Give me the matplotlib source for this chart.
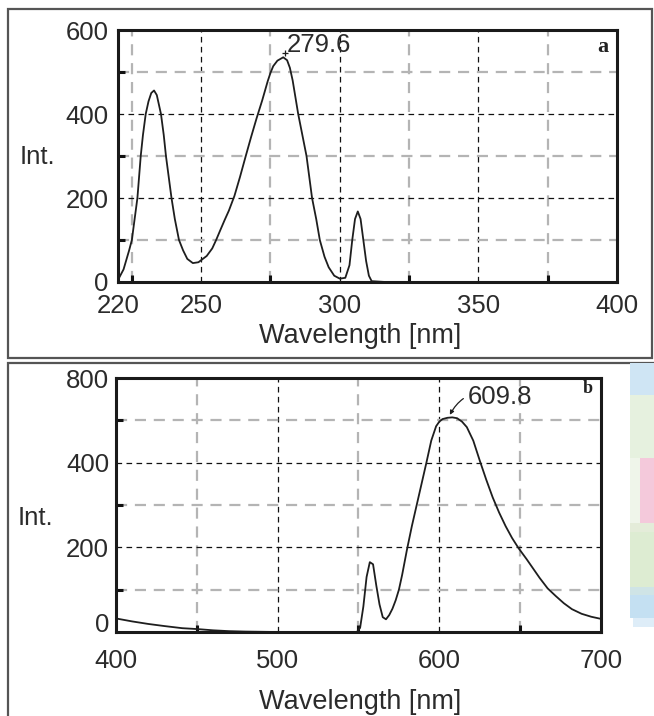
import matplotlib
matplotlib.use("Agg")  # no display in the sandbox
import matplotlib.pyplot as plt
from matplotlib.patches import Rectangle
from matplotlib.ticker import FixedLocator
from matplotlib.transforms import ScaledTranslation

# ---- Data -------------------------------------------------------------

# (a) excitation spectrum
wl_a = [220, 222, 224, 225, 226, 227, 228.2, 229, 230, 231, 232, 233, 234,
        235, 235.5, 236.5, 237.3, 238.3, 239.3, 240.5, 242, 243.5, 245, 247,
        249, 250, 252, 254, 255.4, 257, 258.5, 260, 262, 264, 266, 268, 270,
        272, 274, 275, 276, 277.5, 279.6, 281, 282, 283, 285, 286.5, 288,
        289, 290, 291.5, 292.8, 294.5, 296, 298, 300, 302, 303.5, 304.5,
        305.5, 306.5, 307.5, 308.5, 309.5, 310.5, 311.5, 316.5]
int_a = [5, 30, 75, 100, 150, 200, 300, 350, 400, 430, 450, 456, 445,
         415, 400, 350, 300, 250, 200, 150, 100, 75, 55, 45,
         47, 52, 62, 80, 100, 125, 148, 170, 205, 250, 298, 345, 390,
         432, 478, 498, 514, 527, 535, 528, 510, 480, 400, 350, 300,
         250, 200, 150, 100, 60, 35, 15, 8, 10, 40, 100,
         150, 168, 150, 100, 50, 15, 2, 0]
peak_a = (279.6, 535)

# (b) emission spectrum
wl_b = [400, 410, 420, 430, 441, 450, 460, 470, 480, 500, 549, 551, 553, 555,
        557, 559, 561, 563, 565, 567, 569, 571, 573, 575, 577, 580, 583, 586,
        589, 592, 595, 598, 600, 602, 605, 608, 611, 614, 617, 621, 625, 629,
        633, 637, 641, 645, 649, 654, 658, 662, 667, 672, 677, 682, 688, 694, 700]
int_b = [32, 25, 19, 14, 9, 7, 4, 2, 1, 0, 0, 10, 60, 130,
         165, 160, 110, 65, 35, 30, 40, 55, 75, 100, 135, 195, 250, 300,
         350, 400, 452, 486, 497, 503, 506, 507, 505, 497, 484, 452, 405, 360,
         318, 282, 250, 222, 198, 172, 150, 128, 103, 85, 68, 54, 43, 36, 31]
peak_b = (609.8, 507)

xticks_a = [220, 250, 300, 350, 400]
xminor_a = [225, 275, 325, 375]
xticks_b = [400, 500, 600, 700]
xminor_b = [450, 550, 650]
yticks = [0, 200, 400, 600]
yminor = [100, 300, 500]
ylabels_a = ["0", "200", "400", "600"]
ylabels_b = ["0", "200", "400", "800"]  # top label printed as 800 in the source

# colour strip cut off at the right of panel (b): (top px, bottom px, left px, colour)
strip = [
    (363, 395, 630, "#cfe5f4"),
    (395, 458, 630, "#e6f1df"),
    (458, 523, 630, "#eff5ea"),
    (458, 523, 640, "#f4c9db"),
    (523, 532, 630, "#e4ecd9"),
    (532, 587, 630, "#ddecd2"),
    (587, 595, 630, "#cfe4e6"),
    (595, 618, 630, "#c4e0f2"),
    (618, 627, 633, "#deedf8"),
]

# ---- Style ------------------------------------------------------------

W, H = 654, 716
FONT = "Liberation Sans"
TXT = "#2b2b2b"
LINE = "#1e1e1e"
FS = 18.5

plt.rcParams.update({
    "font.family": [FONT, "DejaVu Sans"],
    "font.size": FS,
    "text.color": TXT,
    "xtick.color": TXT,
    "ytick.color": TXT,
})


def px_rect(left, top, right, bottom):
    return [left / W, 1 - bottom / H, (right - left) / W, (bottom - top) / H]


def style_axes(ax, xmaj, xmin, xpad, ypad):
    ax.set_xticks(xmaj)
    ax.xaxis.set_minor_locator(FixedLocator(xmin))
    ax.yaxis.set_minor_locator(FixedLocator(yminor))
    ax.set_ylim(0, 600)
    ax.set_axisbelow(True)
    ax.grid(which="major", color="#111111", linestyle=(0, (4.5, 3.5)), linewidth=0.9)
    ax.grid(which="minor", color="#b4b4b4", linestyle=(0, (5, 3.5)), linewidth=1.6)
    ax.tick_params(which="major", length=0, labelsize=FS)
    ax.tick_params(axis="x", which="major", pad=xpad)
    ax.tick_params(axis="y", which="major", pad=ypad)
    ax.tick_params(which="minor", direction="in", length=5, width=2.2, color="#111111")
    for s in ax.spines.values():
        s.set_linewidth(2.2)
        s.set_color("#1a1a1a")


fig = plt.figure(figsize=(W / 100, H / 100), dpi=100)

# panel frames
for l, t, r, b in [(8, 9, 652, 358), (8, 363, 660, 730)]:
    fig.add_artist(Rectangle((l / W, 1 - b / H), (r - l) / W, (b - t) / H,
                             transform=fig.transFigure, fill=False,
                             edgecolor="#555555", linewidth=1.6))

for top, bot, left, col in strip:
    fig.add_artist(Rectangle((left / W, 1 - bot / H), (654 - left) / W, (bot - top) / H,
                             transform=fig.transFigure, facecolor=col,
                             edgecolor="none"))

# ---- (a) --------------------------------------------------------------
ax = fig.add_axes(px_rect(118, 30, 617, 282))
ax.plot(wl_a, int_a, color=LINE, linewidth=1.3)
ax.set_xlim(220, 400)
style_axes(ax, xticks_a, xminor_a, xpad=9, ypad=7)
ax.set_yticks(yticks, ylabels_a)
ax.plot(peak_a[0] + 0.8, peak_a[1] + 10, marker="+", color=LINE, ms=5, mew=0.9)
ax.text(280.8, 564, f"{peak_a[0]}", ha="left", va="center", fontsize=FS)
ax.text(0.982, 0.933, "a", transform=ax.transAxes, ha="right", va="center",
        family="Liberation Serif", fontweight="bold", fontsize=16, color="#222222")
fig.text(37 / W, 1 - 157 / H, "Int.", ha="center", va="center", fontsize=FS)
fig.text(360 / W, 1 - 336 / H, "Wavelength [nm]", ha="center", va="center", fontsize=FS + 1)

# ---- (b) --------------------------------------------------------------
ax = fig.add_axes(px_rect(116, 378, 601, 632))
ax.plot(wl_b, int_b, color=LINE, linewidth=1.3)
ax.set_xlim(400, 700)
style_axes(ax, xticks_b, xminor_b, xpad=12, ypad=5)
ax.set_yticks(yticks, ylabels_b)
# the "0" label sits a little above the axis in the source
lab0 = ax.get_yticklabels()[0]
lab0.set_transform(lab0.get_transform() + ScaledTranslation(0, 0.09, fig.dpi_scale_trans))
ax.annotate(f"{peak_b[0]}", xy=(peak_b[0] - 3.3, peak_b[1] + 6), xytext=(617.3, 555),
            ha="left", va="center", fontsize=FS,
            arrowprops=dict(arrowstyle="-|>", color=LINE, lw=0.9, mutation_scale=6,
                            shrinkA=1, shrinkB=0, connectionstyle="arc3,rad=0.45"))
ax.text(0.983, 0.957, "b", transform=ax.transAxes, ha="right", va="center",
        family="Liberation Serif", fontweight="bold", fontsize=13, color="#222222")
fig.text(35 / W, 1 - 518 / H, "Int.", ha="center", va="center", fontsize=FS)
fig.text(360 / W, 1 - 702 / H, "Wavelength [nm]", ha="center", va="center", fontsize=FS + 1)

fig.savefig("out.png", dpi=100)
